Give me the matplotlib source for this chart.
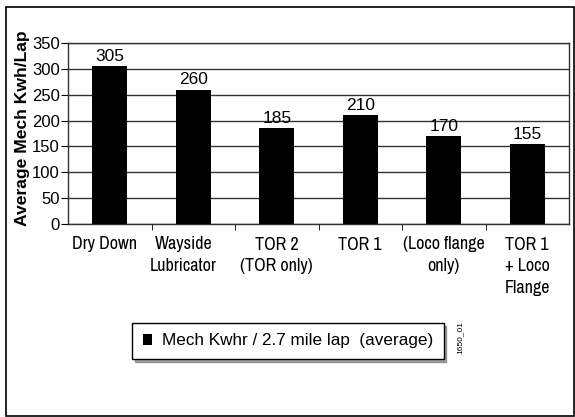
import matplotlib
matplotlib.use("Agg")
from matplotlib import pyplot as plt
from matplotlib.patches import Rectangle
from matplotlib.transforms import ScaledTranslation

plt.rcParams['font.family'] = ['Liberation Sans', 'DejaVu Sans']

categories = ["Dry Down", "Wayside\nLubricator", "TOR 2\n(TOR only)", "TOR 1",
              "(Loco flange\nonly)", "TOR 1\n+ Loco\nFlange"]
values = [305, 260, 185, 210, 170, 155]
series_name = "Mech Kwhr / 2.7 mile lap  (average)"
yticks = [0, 50, 100, 150, 200, 250, 300, 350]

narrow = ['Archivo Narrow', 'PT Sans Narrow', 'Roboto Condensed',
          'Liberation Sans']

W, H = 575, 417
fig = plt.figure(figsize=(W / 100, H / 100), dpi=100)

# outer frame
fig.patches.append(Rectangle((6 / W, 1 - 416 / H), 568 / W, 409 / H,
                             transform=fig.transFigure, fill=False,
                             edgecolor='black', linewidth=1.2))

ax = fig.add_axes([68 / W, 1 - 224 / H, 501 / W, 181 / H])
xs = list(range(len(categories)))
ax.bar(xs, values, width=0.42, color='black', zorder=3, label=series_name)
ax.set_xlim(-0.5, len(categories) - 0.5)
ax.set_ylim(0, 350)
ax.set_yticks(yticks)
ax.yaxis.grid(True, color='#333333', linewidth=1.0, zorder=0)
for s in ax.spines.values():
    s.set_color('#333333')
    s.set_linewidth(1.0)

for x, v in zip(xs, values):
    ax.text(x, v + 4, str(v), ha='center', va='bottom', fontsize=12.5)

ax.set_xticks(xs)
ax.set_xticklabels(categories, fontsize=13, family=narrow,
                   linespacing=1.45, va='top')
ax.set_xticks([i + 0.5 for i in xs[:-1]], minor=True)
ax.tick_params(axis='x', which='major', length=0, pad=9)
ax.tick_params(axis='x', which='minor', length=4, direction='out')
ax.tick_params(axis='y', length=5, direction='out', labelsize=12, pad=1)

# first two labels sit a little left of their bars in the original
for lbl, dx in zip(ax.get_xticklabels()[:2], [-5, -10]):
    lbl.set_transform(lbl.get_transform() +
                      ScaledTranslation(dx / 100, 0, fig.dpi_scale_trans))

ax.set_ylabel("Average Mech Kwh/Lap", fontsize=12.6, fontweight='bold')
ax.yaxis.set_label_coords(-0.076, 0.53)

leg = ax.legend(loc='center', bbox_to_anchor=(288 / W, 1 - 341 / H),
                bbox_transform=fig.transFigure, frameon=True, shadow=True,
                fancybox=False, fontsize=12.3, handlelength=0.55,
                handleheight=0.55, handletextpad=0.6, borderpad=0.6,
                borderaxespad=0)
leg.get_frame().set_edgecolor('black')
leg.get_frame().set_linewidth(1.0)

fig.text(460 / W, 1 - 337 / H, "1650_01", rotation=90, fontsize=6,
         ha='center', va='center')

fig.savefig("out.png", dpi=100)
